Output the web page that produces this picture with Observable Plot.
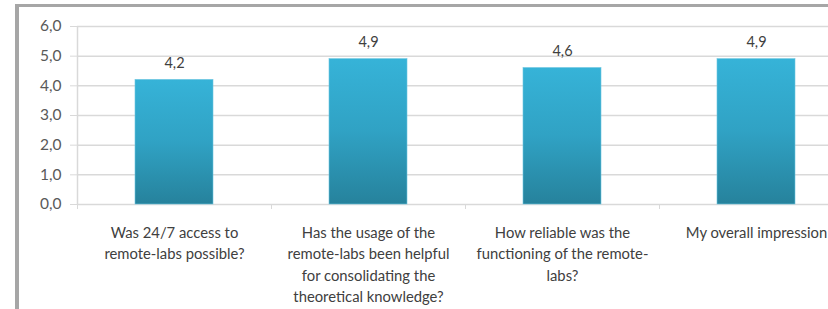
<!DOCTYPE html>
<html>
<head>
<meta charset="utf-8">
<script src="https://cdn.jsdelivr.net/npm/d3@7"></script>
<script src="https://cdn.jsdelivr.net/npm/@observablehq/plot@0.6"></script>
<style>
  html, body { margin: 0; padding: 0; background: #fff; }
  #wrap { position: relative; width: 828px; height: 309px; overflow: hidden; }
  #frame { position: absolute; left: 15px; top: 4px; right: -10px; bottom: -10px;
           border-left: 4px solid #a6a6a6; border-top: 3px solid #a6a6a6; pointer-events: none; }
</style>
</head>
<body>
<div id="wrap"><div id="frame"></div></div>
<script>
const categories = [
  "Was 24/7 access to\nremote-labs possible?",
  "Has the usage of the\nremote-labs been helpful\nfor consolidating the\ntheoretical knowledge?",
  "How reliable was the\nfunctioning of the remote-\nlabs?",
  "My overall impression"
];
const values = [4.2, 4.9, 4.6, 4.9];
const yTicks = [0, 1, 2, 3, 4, 5, 6];

const data = categories.map((c, i) => ({cat: c, value: values[i]}));
const fmt = d => d.toFixed(1).replace(".", ",");
const font = "Lato, 'Open Sans', sans-serif";
const textColor = "#595959";

const chart = Plot.plot({
  width: 828,
  height: 309,
  marginLeft: 77,
  marginRight: 0,
  marginTop: 26,
  marginBottom: 105,
  style: {fontFamily: font, fontSize: "15px", color: textColor, background: "transparent"},
  x: {domain: categories, range: [77, 853], paddingInner: 0.6, paddingOuter: 0.3, axis: null},
  y: {domain: [0, 6], axis: null},
  marks: [
    Plot.ruleY(yTicks, {stroke: "#d9d9d9", strokeWidth: 1.5}),
    Plot.axisY({ticks: yTicks, tickFormat: fmt, label: null, tickSize: 7, tickPadding: 9, stroke: "#d9d9d9", fill: textColor, fontSize: 15.5}),
    Plot.axisX({ticks: categories, tickFormat: () => "", label: null, tickSize: 5, dx: -97, stroke: "#d9d9d9"}),
    Plot.ruleX([0], {x: () => categories[0], dx: -97, y1: 0, y2: 6, stroke: "#d9d9d9", strokeWidth: 1.5}),
    Plot.barY(data, {x: "cat", y: "value", fill: "url(#barGrad)", stroke: "#6cc6e0", strokeWidth: 0.6}),
    Plot.text(data, {x: "cat", y: "value", text: d => fmt(d.value), dy: -17, fill: "#404040", fontSize: 14.5}),
    Plot.text(data, {x: "cat", y: () => 0, text: "cat", lineAnchor: "top", dy: 18, lineHeight: 1.45, fill: "#404040", fontSize: 14.8})
  ]
});

chart.insertAdjacentHTML("afterbegin",
  `<defs><linearGradient id="barGrad" x1="0" y1="0" x2="0" y2="1">
     <stop offset="0" stop-color="#36b3d8"/>
     <stop offset="0.5" stop-color="#30a2c4"/>
     <stop offset="1" stop-color="#26829c"/>
   </linearGradient></defs>`);

const wrap = document.getElementById("wrap");
wrap.insertBefore(chart, wrap.firstChild);
</script>
</body>
</html>
